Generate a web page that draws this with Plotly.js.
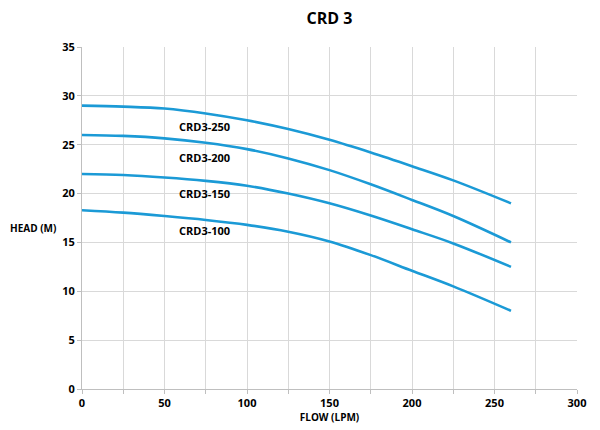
<!DOCTYPE html>
<html>
<head>
<meta charset="utf-8">
<script src="https://cdn.plot.ly/plotly-3.0.1.min.js"></script>
<style>html,body{margin:0;padding:0;background:#fff;}#chart{width:600px;height:430px;}</style>
</head>
<body>
<div id="chart"></div>
<script>
const flow = [0, 25, 50, 75, 100, 125, 150, 175, 200, 225, 260];
const crd3_250 = [29.0, 28.9, 28.7, 28.2, 27.5, 26.6, 25.5, 24.2, 22.8, 21.35, 19.0];
const crd3_200 = [26.0, 25.9, 25.65, 25.2, 24.55, 23.6, 22.4, 20.95, 19.35, 17.7, 15.0];
const crd3_150 = [22.0, 21.9, 21.65, 21.3, 20.8, 20.0, 19.0, 17.75, 16.35, 14.9, 12.5];
const crd3_100 = [18.3, 18.05, 17.7, 17.3, 16.8, 16.1, 15.1, 13.7, 12.1, 10.5, 8.0];
const seriesNames = ['CRD3-250', 'CRD3-200', 'CRD3-150', 'CRD3-100'];
const labelX = [57.5, 57.5, 57.5, 57.5];
const labelY = [26.9, 23.7, 20.0, 16.2];

const lineColor = '#1b9ad6';
const font = 'Open Sans, Liberation Sans, sans-serif';
const allSeries = [crd3_250, crd3_200, crd3_150, crd3_100];

const traces = allSeries.map((ys, i) => ({
  x: flow, y: ys, type: 'scatter', mode: 'lines', name: seriesNames[i],
  line: {color: lineColor, width: 2.6, shape: 'spline', smoothing: 1}
}));

const annotations = seriesNames.map((n, i) => ({
  x: labelX[i], y: labelY[i], xref: 'x', yref: 'y', text: '<b>' + n + '</b>', showarrow: false,
  xanchor: 'left', yanchor: 'middle', font: {family: font, size: 11, color: '#000'}
}));
annotations.push({
  x: 0, y: 0.5, xref: 'paper', yref: 'paper', xshift: -74, yshift: -10,
  text: '<b>HEAD (M)</b>', showarrow: false, xanchor: 'left', yanchor: 'middle',
  font: {family: font, size: 10, color: '#000'}
});

const axisCommon = {
  showline: true, linecolor: '#bfbfbf', linewidth: 1,
  gridcolor: '#d9d9d9', gridwidth: 1, zeroline: false,
  ticks: 'outside', ticklen: 4, tickcolor: '#bfbfbf',
  tickfont: {family: font, size: 11, color: '#000', weight: 'bold'}
};

const layout = {
  width: 600, height: 430,
  margin: {l: 82, r: 23, t: 47, b: 41},
  paper_bgcolor: '#fff', plot_bgcolor: '#fff',
  showlegend: false,
  title: {text: '<b>CRD 3</b>', x: 0.549, xanchor: 'center', y: 0.957, yanchor: 'middle',
          font: {family: font, size: 16, color: '#000'}},
  xaxis: Object.assign({}, axisCommon, {
    range: [0, 300], dtick: 50, tick0: 0,
    minor: {dtick: 25, showgrid: true, gridcolor: '#d9d9d9', ticks: 'outside', ticklen: 4, tickcolor: '#bfbfbf'},
    title: {text: '<b>FLOW (LPM)</b>', font: {family: font, size: 10, color: '#000'}, standoff: 4}
  }),
  yaxis: Object.assign({}, axisCommon, {
    range: [0, 35], dtick: 5, tick0: 0
  }),
  annotations: annotations
};

Plotly.newPlot('chart', traces, layout, {staticPlot: true, displayModeBar: false});
</script>
</body>
</html>
